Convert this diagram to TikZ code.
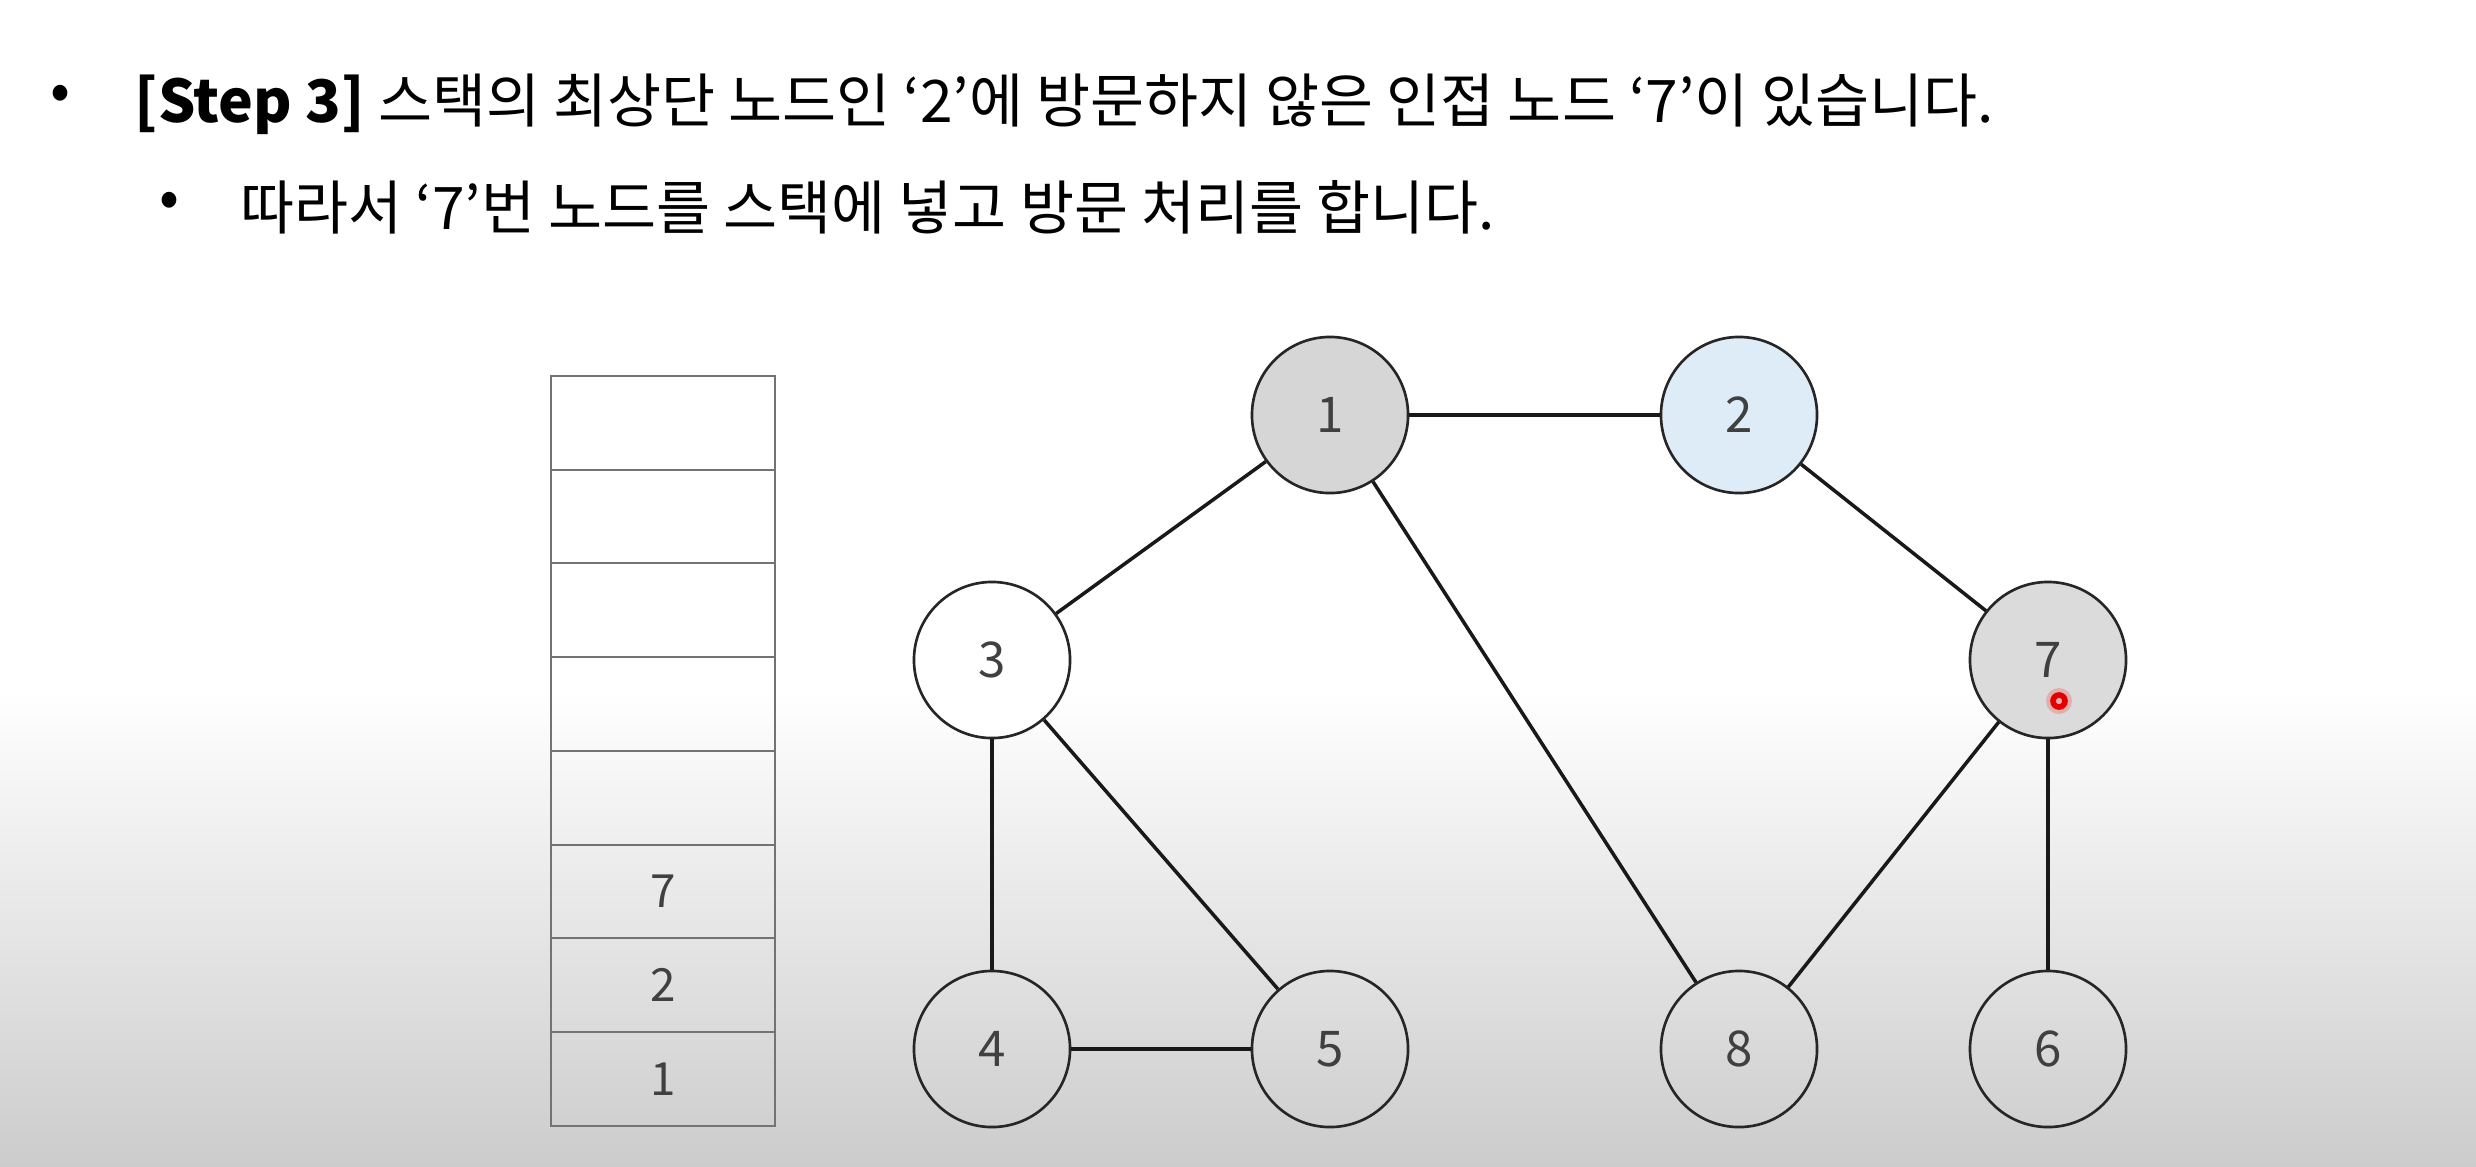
\documentclass[tikz,border=0pt]{standalone}
\usepackage{fontspec}
\setmainfont{Noto Sans CJK KR}
\definecolor{curblue}{RGB}{222,236,247}

\tikzset{
  vtx/.style={circle, draw=black!85, line width=0.75pt, minimum size=1.56cm, inner sep=0pt,
    font=\fontsize{14}{14}\selectfont, text=black!75},
  cell/.style={draw=black!55, line width=0.5pt, minimum width=2.24cm, minimum height=0.9375cm,
    inner sep=0pt, font=\fontsize{13}{13}\selectfont, text=black!75},
  edge/.style={line width=1pt, black!90}
}

\begin{document}
\begin{tikzpicture}[x=0.01cm,y=-0.01cm, every node/.style={font=\fontsize{16.7}{16.7}\selectfont}]
    \fill[white] (0,0) rectangle (2476,1166);
    \shade[top color=white, bottom color=black!20] (0,690) rectangle (2476,1166);
    \useasboundingbox (0,0) rectangle (2476,1166);

    % text
    \node (b1) at (60,98) {•};
    \node[anchor=base west, inner sep=0pt] (t1) at (134,122)
        {\textbf{[Step 3]} 스택의 최상단 노드인 ‘2’에 방문하지 않은 인접 노드 ‘7’이 있습니다.};
    \node (b2) at (169,205) {•};
    \node[anchor=base west, inner sep=0pt] (t2) at (240,229)
        {따라서 ‘7’번 노드를 스택에 넣고 방문 처리를 합니다.};

    % stack
    \foreach \t [count=\i from 0] in {1,2,7,{},{},{},{},{}}
        \node[cell] (s\i) at (663,1079-93.75*\i) {\t};

    % graph
    \node[vtx, fill=black!16] (n1) at (1330,415) {1};
    \node[vtx, fill=curblue] (n2) at (1739,415) {2};
    \node[vtx, fill=white] (n3) at (992,660) {3};
    \node[vtx, fill=black!14] (n7) at (2048,660) {7};
    \node[vtx] (n4) at (992,1049) {4};
    \node[vtx] (n5) at (1330,1049) {5};
    \node[vtx] (n8) at (1739,1049) {8};
    \node[vtx] (n6) at (2048,1049) {6};

    \draw[edge] (n1) -- (n2);
    \draw[edge] (n1) -- (n3);
    \draw[edge] (n1) -- (n8);
    \draw[edge] (n2) -- (n7);
    \draw[edge] (n3) -- (n4);
    \draw[edge] (n3) -- (n5);
    \draw[edge] (n4) -- (n5);
    \draw[edge] (n7) -- (n8);
    \draw[edge] (n7) -- (n6);

    % pointer
    \fill[red, opacity=0.2] (2059,701) circle (13);
    \draw[red!90!black, line width=1.6pt] (2059,701) circle (6);
\end{tikzpicture}
\end{document}
